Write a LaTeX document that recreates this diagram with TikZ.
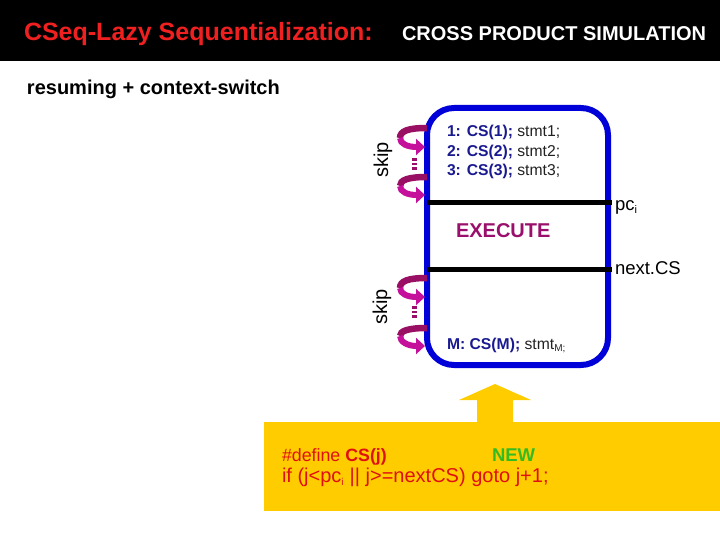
\documentclass[tikz,border=0pt]{standalone}
\usepackage{fontspec}
\setmainfont{Liberation Sans}
\usetikzlibrary{arrows.meta}
\definecolor{hdrred}{HTML}{F02020}
\definecolor{boxblue}{HTML}{0000D8}
\definecolor{navy}{HTML}{1A1A90}
\definecolor{plum}{HTML}{990F6B}
\definecolor{magdark}{HTML}{990F63}
\definecolor{magbright}{HTML}{C4109A}
\definecolor{gold}{HTML}{FFCC00}
\definecolor{codered}{HTML}{E01010}
\definecolor{newgreen}{HTML}{33BB22}
\definecolor{stmtgrey}{HTML}{222222}
\tikzset{
  lbl/.style={inner sep=0pt,outer sep=0pt,anchor=base west},
  sz/.style={font=\fontsize{#1}{#1}\selectfont},
  loopback/.style={magdark,line width=6.5pt},
  loopfront/.style={magbright,line width=6pt,-{Triangle[length=9pt,width=16pt]}},
  dots/.style={plum,line width=4.5pt,dash pattern=on 2.8pt off 1.8pt},
  divider/.style={black,line width=5pt}
}
\begin{document}
\begin{tikzpicture}[x=1pt,y=-1pt]
\useasboundingbox (0,0) rectangle (720,540);
\fill[black] (0,0) rectangle (720,61);
\node[lbl,sz=25,text=hdrred] (title) at (24,41) {\textbf{CSeq-Lazy Sequentialization:}};
\node[lbl,sz=20,text=white] (sub) at (402,41) {\textbf{CROSS PRODUCT SIMULATION}};
\node[lbl,sz=20,text=black] (res) at (27,95) {\textbf{resuming + context-switch}};
% code box
\draw[boxblue,line width=6pt,rounded corners=27pt] (427,108) rectangle (608,365);
\coordinate (d1l) at (427,203); \coordinate (d1r) at (612,203);
\coordinate (d2l) at (427,269); \coordinate (d2r) at (612,269);
\draw[divider] (d1l) -- (d1r);
\draw[divider] (d2l) -- (d2r);
\node[lbl,sz=15.7] (l1) at (447,137) {\textcolor{navy}{\textbf{1: CS(1);}} \textcolor{stmtgrey}{stmt1;}};
\node[lbl,sz=15.7] (l2) at (447,157) {\textcolor{navy}{\textbf{2: CS(2);}} \textcolor{stmtgrey}{stmt2;}};
\node[lbl,sz=15.7] (l3) at (447,176) {\textcolor{navy}{\textbf{3: CS(3);}} \textcolor{stmtgrey}{stmt3;}};
\node[lbl,sz=20,text=plum] (ex) at (456,237) {\textbf{EXECUTE}};
\node[lbl,sz=18.5] (pc) at (615,211) {pc\textsubscript{\fontsize{11}{11}\selectfont i}};
\node[lbl,sz=18.5] (nx) at (615,274) {next.CS};
\node[lbl,sz=15.7] (lm) at (447,349) {\textcolor{navy}{\textbf{M: CS(M);}} \textcolor{stmtgrey}{stmt\textsubscript{\fontsize{10}{10}\selectfont M;}}};
\node[sz=20,rotate=90,inner sep=0pt] (sk1) at (383,160) {skip};
\node[sz=20,rotate=90,inner sep=0pt] (sk2) at (382,307) {skip};
% loops
\foreach \t/\n/\b in {128/147/138,177/195/186,278/297/288,328/346/336}{
  \draw[loopback] (427,\t) .. controls (408,\t) and (400,\t+3) .. (400,\b);
  \draw[loopfront] (400,\b) .. controls (400,\b+6) and (408,\n) .. (425,\n);
}
\draw[dots] (414.5,170) -- (414.5,158);
\draw[dots] (414.5,318) -- (414.5,306);
% yellow panel
\fill[gold] (264,422) rectangle (720,511);
\fill[gold] (477,423) -- (477,400) -- (459,400) -- (495,384) -- (531,400) -- (513,400) -- (513,423) -- cycle;
\node[lbl,sz=17.8,text=codered] (def) at (282,461) {\#define \textbf{CS(j)}};
\node[lbl,sz=18.5,text=newgreen] (new) at (492,461) {\textbf{NEW}};
\node[lbl,sz=20,text=codered] (ifl) at (282,482) {if (j<pc\textsubscript{\fontsize{10}{10}\selectfont i} || j>=nextCS) goto j+1;};
\end{tikzpicture}
\end{document}
